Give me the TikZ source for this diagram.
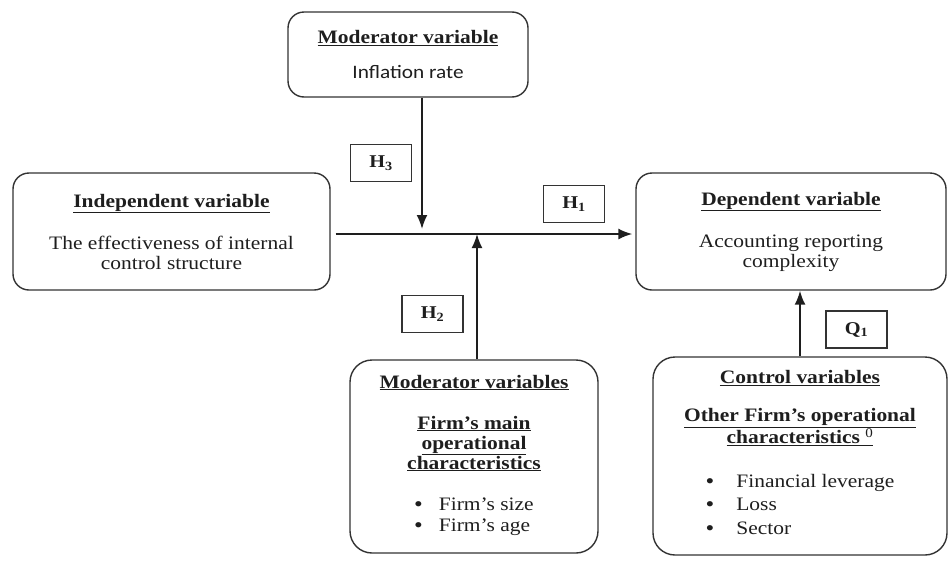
\documentclass[tikz,border=0pt]{standalone}
\usepackage{fontspec}
\setmainfont{Liberation Serif}[FakeStretch=1.13]
\newfontfamily\calfont{Carlito}[FakeStretch=1.12]
\usepackage{xcolor}
\usetikzlibrary{positioning, arrows.meta}
\definecolor{ink}{HTML}{1E1E1E}
\definecolor{edge}{HTML}{333333}
\newcommand{\ttl}[1]{\underline{\textbf{#1}}}
\newcommand{\blt}{\raisebox{-0.8pt}{\fontsize{22}{0}\selectfont\textbullet}}

\begin{document}
\begin{tikzpicture}[x=1pt, y=-1pt,
    varbox/.style={draw=edge, text=ink, line width=1.4pt, rounded corners=16pt, align=center,
      inner sep=0pt, font=\fontsize{19}{20}\selectfont},
    hypbox/.style={draw=edge, text=ink, line width=1.1pt, minimum width=61pt, minimum height=37pt,
      inner sep=0pt, font=\bfseries\fontsize{18}{20}\selectfont},
    link/.style={draw=ink, line width=1.8pt, -{Latex[length=14pt,width=11pt]}}]
  \useasboundingbox (0,0) rectangle (948,560);

  \node[varbox, minimum width=240pt, minimum height=85pt] (infl) at (408,54.5)
    {\ttl{Moderator variable}\\[15pt] {\calfont Inflation rate}};
  \node[varbox, minimum width=317pt, minimum height=117pt] (indep) at (171.5,231.5)
    {\ttl{Independent variable}\\[22pt] The effectiveness of internal\\ control structure};
  \node[varbox, minimum width=310pt, minimum height=117pt] (dep) at (791,231.5)
    {\ttl{Dependent variable}\\[22pt] Accounting reporting\\ complexity};
  \node[varbox, rounded corners=22pt, minimum width=248pt, minimum height=193pt] (firm) at (474,456.5)
    {\ttl{Moderator variables}\\[21pt]
     \ttl{Firm's main}\\ \ttl{operational}\\ \ttl{characteristics}\\[24pt]
     \renewcommand{\arraystretch}{1.05}%
     \begin{tabular}{@{}l@{}}
       \blt\hspace{16pt}Firm's size\\
       \blt\hspace{16pt}Firm's age
     \end{tabular}};
  \node[varbox, rounded corners=22pt, minimum width=294pt, minimum height=198pt] (ctrl) at (800,456)
    {\ttl{Control variables}\\[18pt]
     \ttl{Other Firm's operational}\\ \ttl{characteristics \textsuperscript{\normalfont 0}}\\[24pt]
     \renewcommand{\arraystretch}{1.18}%
     \begin{tabular}{@{}l@{}}
       \blt\hspace{22pt}Financial leverage\\
       \blt\hspace{22pt}Loss\\
       \blt\hspace{22pt}Sector
     \end{tabular}};

  % hypotheses
  \node[hypbox] (h3) at (381,163) {H\textsubscript{3}};
  \node[hypbox] (h1) at (574,204) {H\textsubscript{1}};
  \node[hypbox] (h2) at (432.5,314) {H\textsubscript{2}};
  \node[hypbox] (q1) at (856.5,329.5) {Q\textsubscript{1}};

  \coordinate (meet3) at (422,229);
  \coordinate (meet2) at (477,234);

  \path[link] ([xshift=5pt,yshift=-2.5pt]indep.east) -- ([xshift=-3pt,yshift=-2.5pt]dep.west);
  \path[link] (infl.south -| meet3) -- (meet3);
  \path[link] (firm.north -| meet2) -- (meet2);
  \path[link] (ctrl.north) -- (ctrl.north |- dep.south);
\end{tikzpicture}
\end{document}
